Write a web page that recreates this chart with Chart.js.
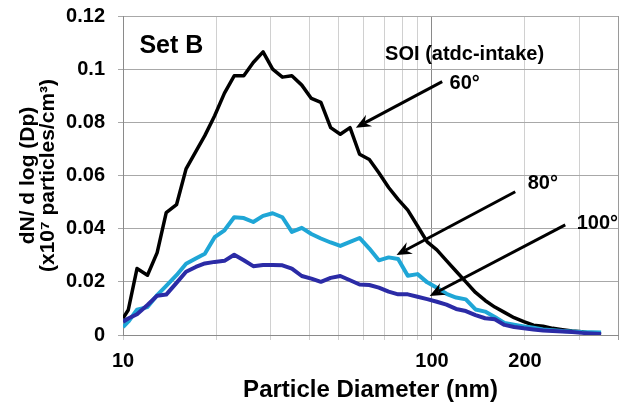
<!DOCTYPE html>
<html>
<head>
<meta charset="UTF-8">
<title>Set B - particle size distribution</title>
<style>
  body{margin:0;padding:0;background:#fff;}
  #wrap{width:635px;height:406px;}
</style>
<script src="https://cdn.jsdelivr.net/npm/chart.js"></script>
</head>
<body>
<div id="wrap"><canvas id="c" width="635" height="406"></canvas></div>
<script>
/* ===== Data ===== */
const diameters=[10.0,10.4,11.1,12.0,12.9,13.8,14.9,16.0,17.2,18.4,19.8,21.3,22.9,24.6,26.4,28.4,30.5,32.8,35.2,37.9,
  40.7,43.7,47.0,50.5,54.3,58.3,62.7,67.3,72.4,77.7,83.5,89.8,96.5,103.7,111.4,119.7,128.7,138.3,148.6,159.7,
  171.6,184.4,198.2,213.0,228.9,246.0,264.4,284.1,305.3,328.1,352.6];
const soi60=[0.0063,0.0094,0.025,0.0225,0.031,0.046,0.049,0.0625,0.069,0.075,0.0825,0.091,0.0975,0.0975,0.1025,0.1065,0.100,0.097,0.0975,0.094,
  0.089,0.0875,0.078,0.0755,0.078,0.068,0.066,0.061,0.0555,0.051,0.047,0.041,0.035,0.032,0.028,0.024,0.020,0.016,0.013,0.0105,
  0.0085,0.0065,0.005,0.0037,0.0033,0.0025,0.002,0.0015,0.0012,0.0006,0.0002];
const soi80=[0.003,0.005,0.0095,0.0105,0.015,0.0185,0.0225,0.0268,0.0288,0.0306,0.0368,0.0394,0.0443,0.044,0.0425,0.0448,0.0458,0.0443,0.0388,0.0403,
  0.038,0.0363,0.0348,0.0335,0.035,0.0365,0.0325,0.0281,0.0292,0.0286,0.0223,0.0229,0.0198,0.0178,0.0155,0.0141,0.0134,0.0096,0.0088,0.0068,
  0.0045,0.0039,0.0032,0.0027,0.0021,0.0018,0.0015,0.0013,0.0011,0.001,0.0009];
const soi100=[0.005,0.0062,0.0078,0.0113,0.0148,0.0152,0.0196,0.0238,0.0256,0.0269,0.0275,0.0279,0.0302,0.0281,0.0259,0.0263,0.0263,0.0262,0.025,0.0222,
  0.0212,0.02,0.0215,0.0222,0.0206,0.019,0.0188,0.0178,0.0163,0.0153,0.0153,0.0144,0.0135,0.0125,0.0114,0.0098,0.009,0.0075,0.0063,0.0059,
  0.0038,0.003,0.0025,0.0021,0.0017,0.0015,0.0013,0.0011,0.0008,0.0006,0.0004];

const xGridTicks=[10,20,30,40,50,60,70,80,90,100,200,300,400];
const xLabelTicks=[10,100,200];
const yTickLabels=['0','0.02','0.04','0.06','0.08','0.1','0.12'];

/* annotations, in data coords */
const arrows=[
  {from:[107.9,0.0953],to:[56.7,0.078]},
  {from:[186,0.0539],to:[76.8,0.0301]},
  {from:[270,0.0414],to:[98.3,0.0147]}
];
const notes=[
  {text:'Set B',at:[11.3,0.1085],size:25,align:'left'},
  {text:'SOI (atdc-intake)',at:[127.5,0.1057],size:20,align:'center'},
  {text:'60°',at:[114,0.0948],size:20,align:'left'},
  {text:'80°',at:[204,0.057],size:20,align:'left'},
  {text:'100°',at:[294,0.0421],size:20,align:'left'}
];

const FONT='"Liberation Sans",Arial,sans-serif';
const pts=arr=>diameters.map((d,i)=>({x:d,y:arr[i]}));

/* ===== arrows + text ===== */
const annoPlugin={
  id:'anno',
  afterDatasetsDraw(chart){
    const {ctx,scales:{x,y}}=chart;
    ctx.save();
    ctx.strokeStyle='#000';ctx.fillStyle='#000';ctx.lineWidth=3;ctx.lineCap='butt';
    arrows.forEach(a=>{
      const x0=x.getPixelForValue(a.from[0]),y0=y.getPixelForValue(a.from[1]);
      const x1=x.getPixelForValue(a.to[0]),y1=y.getPixelForValue(a.to[1]);
      const ang=Math.atan2(y1-y0,x1-x0),c=Math.cos(ang),s=Math.sin(ang);
      const L=15,W=6.5,N=10;
      ctx.beginPath();ctx.moveTo(x0,y0);ctx.lineTo(x1-c*N,y1-s*N);ctx.stroke();
      ctx.beginPath();
      ctx.moveTo(x1,y1);
      ctx.lineTo(x1-c*L-s*W,y1-s*L+c*W);
      ctx.lineTo(x1-c*N,y1-s*N);
      ctx.lineTo(x1-c*L+s*W,y1-s*L-c*W);
      ctx.closePath();ctx.fill();
    });
    ctx.textBaseline='middle';
    notes.forEach(n=>{
      ctx.font='bold '+n.size+'px '+FONT;
      ctx.textAlign=n.align;
      ctx.fillText(n.text,x.getPixelForValue(n.at[0]),y.getPixelForValue(n.at[1]));
    });
    ctx.restore();
  }
};

new Chart(document.getElementById('c'),{
  type:'line',
  data:{datasets:[
    {label:'100°',data:pts(soi100),borderColor:'#2b2ba6',borderWidth:4,order:0},
    {label:'80°',data:pts(soi80),borderColor:'#1fa6d6',borderWidth:4,order:1},
    {label:'60°',data:pts(soi60),borderColor:'#000000',borderWidth:3.5,order:2}
  ]},
  options:{
    responsive:false,animation:false,
    layout:{padding:{top:16,right:17,left:0,bottom:0}},
    elements:{point:{radius:0},line:{tension:0,borderJoinStyle:'round',fill:false}},
    plugins:{legend:{display:false},tooltip:{enabled:false}},
    scales:{
      x:{type:'logarithmic',min:10,max:400,
        afterBuildTicks:sc=>{sc.ticks=xGridTicks.map(v=>({value:v}));},
        afterFit:sc=>{sc.height=71;},
        grid:{color:c=>c.tick&&c.tick.value===100?'#8a8a8a':(c.tick&&c.tick.value===400?'#9a9a9a':'#d0d0d0'),tickLength:5},
        border:{color:'#8a8a8a'},
        ticks:{autoSkip:false,maxRotation:0,padding:9,color:'#000',font:{family:FONT,size:20,weight:'bold'},
          callback:v=>xLabelTicks.includes(v)?String(v):''},
        title:{display:true,text:'Particle Diameter (nm)',color:'#000',font:{family:FONT,size:24,weight:'bold'},padding:{top:0,bottom:1}}
      },
      y:{min:0,max:0.12,
        ticks:{stepSize:0.02,padding:13,color:'#000',font:{family:FONT,size:20,weight:'bold'},
          callback:(v,i)=>yTickLabels[i]},
        afterFit:sc=>{sc.width=123;sc.paddingTop=10;sc.paddingBottom=10;},
        grid:{color:'#a8a8a8',tickLength:5},
        border:{color:'#8a8a8a'},
        title:{display:true,text:['dN/ d log (Dp)','(x10⁷ particles/cm³)'],color:'#000',
          font:{family:FONT,size:21,weight:'bold',lineHeight:'20px'},padding:{top:18,bottom:0}}
      }
    }
  },
  plugins:[annoPlugin]
});
</script>
</body>
</html>
